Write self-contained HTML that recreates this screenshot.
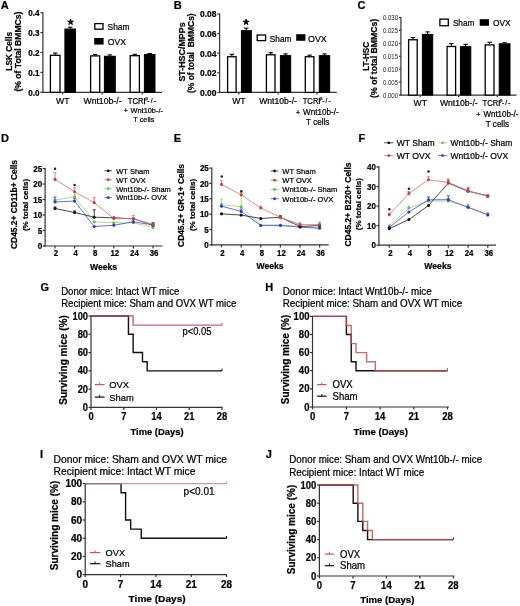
<!DOCTYPE html><html><head><meta charset="utf-8"><style>html,body{margin:0;padding:0;background:#fff;width:520px;height:606px;overflow:hidden}svg text{font-family:"Liberation Sans",sans-serif;stroke:#000;stroke-width:0.22px}</style></head><body><svg width="520" height="606" viewBox="0 0 520 606" style="display:block;filter:blur(0.3px)">
<g font-family='"Liberation Sans", sans-serif'>
<text x="0.80" y="8.70" font-size="11" font-weight="bold" fill="#000">A</text>
<text x="173.80" y="8.60" font-size="11" font-weight="bold" fill="#000">B</text>
<text x="357.60" y="9.30" font-size="11" font-weight="bold" fill="#000">C</text>
<text x="0.90" y="142.30" font-size="11" font-weight="bold" fill="#000">D</text>
<text x="173.80" y="142.20" font-size="11" font-weight="bold" fill="#000">E</text>
<text x="358.40" y="142.20" font-size="11" font-weight="bold" fill="#000">F</text>
<text x="40.40" y="290.50" font-size="11" font-weight="bold" fill="#000">G</text>
<text x="265.30" y="290.50" font-size="11" font-weight="bold" fill="#000">H</text>
<text x="40.10" y="458.00" font-size="11" font-weight="bold" fill="#000">I</text>
<text x="265.80" y="458.00" font-size="11" font-weight="bold" fill="#000">J</text>
<line x1="42.90" y1="12.30" x2="42.90" y2="92.80" stroke="#333" stroke-width="1.2"/>
<line x1="42.40" y1="92.30" x2="162.00" y2="92.30" stroke="#333" stroke-width="1.2"/>
<line x1="40.40" y1="92.30" x2="42.90" y2="92.30" stroke="#333" stroke-width="1.2"/>
<text transform="translate(39.60,95.58) scale(1.000,1.060)" font-size="8.1" font-weight="bold" text-anchor="end" fill="#000">0.0</text>
<line x1="40.40" y1="72.40" x2="42.90" y2="72.40" stroke="#333" stroke-width="1.2"/>
<text transform="translate(39.60,75.68) scale(1.000,1.060)" font-size="8.1" font-weight="bold" text-anchor="end" fill="#000">0.1</text>
<line x1="40.40" y1="52.50" x2="42.90" y2="52.50" stroke="#333" stroke-width="1.2"/>
<text transform="translate(39.60,55.78) scale(1.000,1.060)" font-size="8.1" font-weight="bold" text-anchor="end" fill="#000">0.2</text>
<line x1="40.40" y1="32.60" x2="42.90" y2="32.60" stroke="#333" stroke-width="1.2"/>
<text transform="translate(39.60,35.88) scale(1.000,1.060)" font-size="8.1" font-weight="bold" text-anchor="end" fill="#000">0.3</text>
<line x1="40.40" y1="12.70" x2="42.90" y2="12.70" stroke="#333" stroke-width="1.2"/>
<text transform="translate(39.60,15.98) scale(1.000,1.060)" font-size="8.1" font-weight="bold" text-anchor="end" fill="#000">0.4</text>
<line x1="62.70" y1="92.30" x2="62.70" y2="94.50" stroke="#333" stroke-width="1.2"/>
<line x1="102.30" y1="92.30" x2="102.30" y2="94.50" stroke="#333" stroke-width="1.2"/>
<line x1="142.20" y1="92.30" x2="142.20" y2="94.50" stroke="#333" stroke-width="1.2"/>
<line x1="55.20" y1="53.10" x2="55.20" y2="54.69" stroke="#000" stroke-width="1.1"/>
<line x1="53.00" y1="53.10" x2="57.40" y2="53.10" stroke="#000" stroke-width="1.1"/>
<rect x="50.40" y="55.29" width="9.60" height="37.01" fill="#fff" stroke="#000" stroke-width="1.3"/>
<line x1="70.20" y1="27.23" x2="70.20" y2="29.02" stroke="#000" stroke-width="1.1"/>
<line x1="68.00" y1="27.23" x2="72.40" y2="27.23" stroke="#000" stroke-width="1.1"/>
<rect x="64.90" y="29.02" width="10.60" height="63.28" fill="#000" stroke="#000" stroke-width="1.0"/>
<line x1="95.15" y1="54.69" x2="95.15" y2="55.29" stroke="#000" stroke-width="1.1"/>
<line x1="92.95" y1="54.69" x2="97.35" y2="54.69" stroke="#000" stroke-width="1.1"/>
<rect x="90.60" y="55.89" width="9.10" height="36.41" fill="#fff" stroke="#000" stroke-width="1.3"/>
<line x1="109.85" y1="54.89" x2="109.85" y2="56.28" stroke="#000" stroke-width="1.1"/>
<line x1="107.65" y1="54.89" x2="112.05" y2="54.89" stroke="#000" stroke-width="1.1"/>
<rect x="104.40" y="56.28" width="10.90" height="36.02" fill="#000" stroke="#000" stroke-width="1.0"/>
<line x1="134.80" y1="54.29" x2="134.80" y2="55.09" stroke="#000" stroke-width="1.1"/>
<line x1="132.60" y1="54.29" x2="137.00" y2="54.29" stroke="#000" stroke-width="1.1"/>
<rect x="130.20" y="55.69" width="9.20" height="36.61" fill="#fff" stroke="#000" stroke-width="1.3"/>
<line x1="149.70" y1="53.49" x2="149.70" y2="54.49" stroke="#000" stroke-width="1.1"/>
<line x1="147.50" y1="53.49" x2="151.90" y2="53.49" stroke="#000" stroke-width="1.1"/>
<rect x="144.40" y="54.49" width="10.60" height="37.81" fill="#000" stroke="#000" stroke-width="1.0"/>
<text transform="translate(11.70,51.30) rotate(-90)" font-size="8.3" font-weight="bold" text-anchor="middle" fill="#000">LSK Cells</text>
<text transform="translate(20.60,51.60) rotate(-90)" font-size="8.6" font-weight="bold" text-anchor="middle" fill="#000">(% of Total BMMCs)</text>
<polygon points="70.60,19.00 71.33,21.09 73.55,21.14 71.79,22.49 72.42,24.61 70.60,23.35 68.78,24.61 69.41,22.49 67.65,21.14 69.87,21.09" fill="#000" stroke="#000" stroke-width="0.8" stroke-linejoin="round"/>
<rect x="94.80" y="23.60" width="8.20" height="5.60" fill="#fff" stroke="#000" stroke-width="1.3"/>
<rect x="94.20" y="38.00" width="9.40" height="6.60" fill="#000" stroke="#000" stroke-width="0"/>
<text transform="translate(107.60,29.90) scale(1.000,1.060)" font-size="8.4" fill="#000">Sham</text>
<text transform="translate(107.80,44.80) scale(1.000,1.060)" font-size="8.6" fill="#000">OVX</text>
<text transform="translate(62.70,104.30) scale(1.000,1.060)" font-size="8.7" text-anchor="middle" fill="#000">WT</text>
<text transform="translate(102.50,104.30) scale(1.000,1.060)" font-size="8.7" text-anchor="middle" fill="#000">Wnt10b-/-</text>
<text transform="translate(127.70,104.30) scale(0.890,1.060)" font-size="8.7" fill="#000">TCR</text>
<line x1="144.51" y1="104.30" x2="144.51" y2="98.04" stroke="#000" stroke-width="1.1"/>
<text transform="translate(145.41,100.38) scale(1.000,1.060)" font-size="3.9149999999999996" fill="#000">&#946;</text>
<text transform="translate(147.31,103.10) scale(1.000,1.060)" font-size="6.5249999999999995" fill="#000" letter-spacing="1.2">-/-</text>
<text transform="translate(125.75,113.30) scale(1.000,1.060)" font-size="7.0" text-anchor="middle" fill="#000">+</text>
<text transform="translate(130.50,113.30) scale(1.000,1.060)" font-size="7.4" fill="#000">Wnt10b-/-</text>
<text transform="translate(143.80,121.80) scale(1.000,1.060)" font-size="7.3" text-anchor="middle" fill="#000">T cells</text>
<line x1="219.60" y1="13.60" x2="219.60" y2="92.90" stroke="#333" stroke-width="1.2"/>
<line x1="219.10" y1="92.40" x2="336.70" y2="92.40" stroke="#333" stroke-width="1.2"/>
<line x1="217.30" y1="92.40" x2="219.60" y2="92.40" stroke="#333" stroke-width="1.2"/>
<text transform="translate(216.50,95.83) scale(1.000,1.060)" font-size="8.5" font-weight="bold" text-anchor="end" fill="#000">0.00</text>
<line x1="217.30" y1="72.80" x2="219.60" y2="72.80" stroke="#333" stroke-width="1.2"/>
<text transform="translate(216.50,76.23) scale(1.000,1.060)" font-size="8.5" font-weight="bold" text-anchor="end" fill="#000">0.02</text>
<line x1="217.30" y1="53.20" x2="219.60" y2="53.20" stroke="#333" stroke-width="1.2"/>
<text transform="translate(216.50,56.63) scale(1.000,1.060)" font-size="8.5" font-weight="bold" text-anchor="end" fill="#000">0.04</text>
<line x1="217.30" y1="33.60" x2="219.60" y2="33.60" stroke="#333" stroke-width="1.2"/>
<text transform="translate(216.50,37.03) scale(1.000,1.060)" font-size="8.5" font-weight="bold" text-anchor="end" fill="#000">0.06</text>
<line x1="217.30" y1="14.00" x2="219.60" y2="14.00" stroke="#333" stroke-width="1.2"/>
<text transform="translate(216.50,17.43) scale(1.000,1.060)" font-size="8.5" font-weight="bold" text-anchor="end" fill="#000">0.08</text>
<line x1="238.90" y1="92.40" x2="238.90" y2="94.60" stroke="#333" stroke-width="1.2"/>
<line x1="278.10" y1="92.40" x2="278.10" y2="94.60" stroke="#333" stroke-width="1.2"/>
<line x1="317.10" y1="92.40" x2="317.10" y2="94.60" stroke="#333" stroke-width="1.2"/>
<line x1="231.85" y1="54.38" x2="231.85" y2="56.14" stroke="#000" stroke-width="1.1"/>
<line x1="229.65" y1="54.38" x2="234.05" y2="54.38" stroke="#000" stroke-width="1.1"/>
<rect x="227.60" y="56.74" width="8.50" height="35.66" fill="#fff" stroke="#000" stroke-width="1.3"/>
<line x1="246.35" y1="28.21" x2="246.35" y2="30.66" stroke="#000" stroke-width="1.1"/>
<line x1="244.15" y1="28.21" x2="248.55" y2="28.21" stroke="#000" stroke-width="1.1"/>
<rect x="241.40" y="30.66" width="9.90" height="61.74" fill="#000" stroke="#000" stroke-width="1.0"/>
<line x1="270.70" y1="52.71" x2="270.70" y2="54.18" stroke="#000" stroke-width="1.1"/>
<line x1="268.50" y1="52.71" x2="272.90" y2="52.71" stroke="#000" stroke-width="1.1"/>
<rect x="266.40" y="54.78" width="8.60" height="37.62" fill="#fff" stroke="#000" stroke-width="1.3"/>
<line x1="285.55" y1="53.89" x2="285.55" y2="55.65" stroke="#000" stroke-width="1.1"/>
<line x1="283.35" y1="53.89" x2="287.75" y2="53.89" stroke="#000" stroke-width="1.1"/>
<rect x="280.40" y="55.65" width="10.30" height="36.75" fill="#000" stroke="#000" stroke-width="1.0"/>
<line x1="309.60" y1="55.16" x2="309.60" y2="56.14" stroke="#000" stroke-width="1.1"/>
<line x1="307.40" y1="55.16" x2="311.80" y2="55.16" stroke="#000" stroke-width="1.1"/>
<rect x="305.30" y="56.74" width="8.60" height="35.66" fill="#fff" stroke="#000" stroke-width="1.3"/>
<line x1="324.50" y1="53.89" x2="324.50" y2="55.65" stroke="#000" stroke-width="1.1"/>
<line x1="322.30" y1="53.89" x2="326.70" y2="53.89" stroke="#000" stroke-width="1.1"/>
<rect x="319.30" y="55.65" width="10.40" height="36.75" fill="#000" stroke="#000" stroke-width="1.0"/>
<text transform="translate(185.20,52.00) rotate(-90)" font-size="8.9" font-weight="bold" text-anchor="middle" fill="#000">ST-HSC/MPPs</text>
<text transform="translate(194.00,53.20) rotate(-90)" font-size="8.5" font-weight="bold" text-anchor="middle" fill="#000" xml:space="preserve">(% of total  BMMCs)</text>
<polygon points="246.10,19.00 246.83,21.09 249.05,21.14 247.29,22.49 247.92,24.61 246.10,23.35 244.28,24.61 244.91,22.49 243.15,21.14 245.37,21.09" fill="#000" stroke="#000" stroke-width="0.8" stroke-linejoin="round"/>
<rect x="257.20" y="35.00" width="8.40" height="5.60" fill="#fff" stroke="#000" stroke-width="1.3"/>
<rect x="296.20" y="34.20" width="9.20" height="6.60" fill="#000" stroke="#000" stroke-width="0"/>
<text transform="translate(269.80,42.20) scale(1.000,1.060)" font-size="8.3" fill="#000">Sham</text>
<text transform="translate(308.00,41.80) scale(1.000,1.060)" font-size="8.9" fill="#000">OVX</text>
<text transform="translate(238.90,104.00) scale(1.000,1.060)" font-size="8.6" text-anchor="middle" fill="#000">WT</text>
<text transform="translate(278.10,104.00) scale(1.000,1.060)" font-size="8.6" text-anchor="middle" fill="#000">Wnt10b-/-</text>
<text transform="translate(302.70,104.00) scale(0.890,1.060)" font-size="8.6" fill="#000">TCR</text>
<line x1="319.33" y1="104.00" x2="319.33" y2="97.81" stroke="#000" stroke-width="1.1"/>
<text transform="translate(320.23,100.13) scale(1.000,1.060)" font-size="3.87" fill="#000">&#946;</text>
<text transform="translate(322.13,102.80) scale(1.000,1.060)" font-size="6.449999999999999" fill="#000" letter-spacing="1.2">-/-</text>
<text transform="translate(298.00,115.00) scale(1.000,1.060)" font-size="7.0" text-anchor="middle" fill="#000">+</text>
<text transform="translate(303.10,115.00) scale(1.000,1.060)" font-size="8.1" fill="#000">Wnt10b-/-</text>
<text transform="translate(317.70,125.10) scale(1.000,1.060)" font-size="8.1" text-anchor="middle" fill="#000">T cells</text>
<line x1="400.90" y1="17.00" x2="400.90" y2="95.60" stroke="#333" stroke-width="1.2"/>
<line x1="400.40" y1="95.10" x2="516.50" y2="95.10" stroke="#333" stroke-width="1.2"/>
<line x1="398.90" y1="95.10" x2="400.90" y2="95.10" stroke="#333" stroke-width="1.2"/>
<text transform="translate(398.10,97.62) scale(1.000,1.060)" font-size="6.1" text-anchor="end" fill="#222" style="stroke:none">0.000</text>
<line x1="398.90" y1="82.15" x2="400.90" y2="82.15" stroke="#333" stroke-width="1.2"/>
<text transform="translate(398.10,84.67) scale(1.000,1.060)" font-size="6.1" text-anchor="end" fill="#222" style="stroke:none">0.005</text>
<line x1="398.90" y1="69.20" x2="400.90" y2="69.20" stroke="#333" stroke-width="1.2"/>
<text transform="translate(398.10,71.72) scale(1.000,1.060)" font-size="6.1" text-anchor="end" fill="#222" style="stroke:none">0.010</text>
<line x1="398.90" y1="56.25" x2="400.90" y2="56.25" stroke="#333" stroke-width="1.2"/>
<text transform="translate(398.10,58.77) scale(1.000,1.060)" font-size="6.1" text-anchor="end" fill="#222" style="stroke:none">0.015</text>
<line x1="398.90" y1="43.30" x2="400.90" y2="43.30" stroke="#333" stroke-width="1.2"/>
<text transform="translate(398.10,45.82) scale(1.000,1.060)" font-size="6.1" text-anchor="end" fill="#222" style="stroke:none">0.020</text>
<line x1="398.90" y1="30.35" x2="400.90" y2="30.35" stroke="#333" stroke-width="1.2"/>
<text transform="translate(398.10,32.87) scale(1.000,1.060)" font-size="6.1" text-anchor="end" fill="#222" style="stroke:none">0.025</text>
<line x1="398.90" y1="17.40" x2="400.90" y2="17.40" stroke="#333" stroke-width="1.2"/>
<text transform="translate(398.10,19.92) scale(1.000,1.060)" font-size="6.1" text-anchor="end" fill="#222" style="stroke:none">0.030</text>
<line x1="420.20" y1="95.10" x2="420.20" y2="97.30" stroke="#333" stroke-width="1.2"/>
<line x1="458.60" y1="95.10" x2="458.60" y2="97.30" stroke="#333" stroke-width="1.2"/>
<line x1="497.30" y1="95.10" x2="497.30" y2="97.30" stroke="#333" stroke-width="1.2"/>
<line x1="412.90" y1="37.60" x2="412.90" y2="39.16" stroke="#000" stroke-width="1.1"/>
<line x1="410.70" y1="37.60" x2="415.10" y2="37.60" stroke="#000" stroke-width="1.1"/>
<rect x="408.60" y="39.76" width="8.60" height="55.34" fill="#fff" stroke="#000" stroke-width="1.3"/>
<line x1="427.55" y1="31.90" x2="427.55" y2="34.49" stroke="#000" stroke-width="1.1"/>
<line x1="425.35" y1="31.90" x2="429.75" y2="31.90" stroke="#000" stroke-width="1.1"/>
<rect x="422.40" y="34.49" width="10.30" height="60.61" fill="#000" stroke="#000" stroke-width="1.0"/>
<line x1="451.35" y1="43.56" x2="451.35" y2="45.89" stroke="#000" stroke-width="1.1"/>
<line x1="449.15" y1="43.56" x2="453.55" y2="43.56" stroke="#000" stroke-width="1.1"/>
<rect x="447.10" y="46.49" width="8.50" height="48.61" fill="#fff" stroke="#000" stroke-width="1.3"/>
<line x1="465.60" y1="44.34" x2="465.60" y2="46.67" stroke="#000" stroke-width="1.1"/>
<line x1="463.40" y1="44.34" x2="467.80" y2="44.34" stroke="#000" stroke-width="1.1"/>
<rect x="460.40" y="46.67" width="10.40" height="48.43" fill="#000" stroke="#000" stroke-width="1.0"/>
<line x1="489.60" y1="42.26" x2="489.60" y2="44.34" stroke="#000" stroke-width="1.1"/>
<line x1="487.40" y1="42.26" x2="491.80" y2="42.26" stroke="#000" stroke-width="1.1"/>
<rect x="485.20" y="44.94" width="8.80" height="50.16" fill="#fff" stroke="#000" stroke-width="1.3"/>
<line x1="504.60" y1="42.78" x2="504.60" y2="43.82" stroke="#000" stroke-width="1.1"/>
<line x1="502.40" y1="42.78" x2="506.80" y2="42.78" stroke="#000" stroke-width="1.1"/>
<rect x="499.20" y="43.82" width="10.80" height="51.28" fill="#000" stroke="#000" stroke-width="1.0"/>
<text transform="translate(369.00,56.30) rotate(-90)" font-size="8.2" font-weight="bold" text-anchor="middle" fill="#000">LT-HSC</text>
<text transform="translate(377.20,58.30) rotate(-90)" font-size="8.7" font-weight="bold" text-anchor="middle" fill="#000">(% of total BMMCs)</text>
<rect x="439.90" y="19.10" width="8.40" height="6.60" fill="#fff" stroke="#000" stroke-width="1.3"/>
<rect x="479.70" y="19.20" width="9.30" height="6.60" fill="#000" stroke="#000" stroke-width="0"/>
<text transform="translate(452.90,25.80) scale(1.000,1.060)" font-size="8.2" fill="#000">Sham</text>
<text transform="translate(493.00,25.80) scale(1.000,1.060)" font-size="8.4" fill="#000">OVX</text>
<text transform="translate(420.20,106.00) scale(1.000,1.060)" font-size="8.6" text-anchor="middle" fill="#000">WT</text>
<text transform="translate(458.80,106.00) scale(1.000,1.060)" font-size="8.6" text-anchor="middle" fill="#000">Wnt10b-/-</text>
<text transform="translate(482.60,106.00) scale(0.890,1.060)" font-size="8.6" fill="#000">TCR</text>
<line x1="499.23" y1="106.00" x2="499.23" y2="99.81" stroke="#000" stroke-width="1.1"/>
<text transform="translate(500.13,102.13) scale(1.000,1.060)" font-size="3.87" fill="#000">&#946;</text>
<text transform="translate(502.03,104.80) scale(1.000,1.060)" font-size="6.449999999999999" fill="#000" letter-spacing="1.2">-/-</text>
<text transform="translate(478.40,117.00) scale(1.000,1.060)" font-size="7.0" text-anchor="middle" fill="#000">+</text>
<text transform="translate(483.40,117.00) scale(1.000,1.060)" font-size="8.0" fill="#000">Wnt10b-/-</text>
<text transform="translate(497.40,126.60) scale(1.000,1.060)" font-size="8.1" text-anchor="middle" fill="#000">T cells</text>
<line x1="45.10" y1="168.00" x2="45.10" y2="246.50" stroke="#333" stroke-width="1.2"/>
<line x1="44.60" y1="246.00" x2="162.50" y2="246.00" stroke="#333" stroke-width="1.2"/>
<line x1="42.60" y1="246.00" x2="45.10" y2="246.00" stroke="#333" stroke-width="1.2"/>
<text transform="translate(42.10,249.10) scale(0.950,1.060)" font-size="8.4" font-weight="bold" text-anchor="end" fill="#000">0</text>
<line x1="42.60" y1="230.51" x2="45.10" y2="230.51" stroke="#333" stroke-width="1.2"/>
<text transform="translate(42.10,233.61) scale(0.950,1.060)" font-size="8.4" font-weight="bold" text-anchor="end" fill="#000">5</text>
<line x1="42.60" y1="215.02" x2="45.10" y2="215.02" stroke="#333" stroke-width="1.2"/>
<text transform="translate(42.10,218.12) scale(0.950,1.060)" font-size="8.4" font-weight="bold" text-anchor="end" fill="#000">10</text>
<line x1="42.60" y1="199.53" x2="45.10" y2="199.53" stroke="#333" stroke-width="1.2"/>
<text transform="translate(42.10,202.63) scale(0.950,1.060)" font-size="8.4" font-weight="bold" text-anchor="end" fill="#000">15</text>
<line x1="42.60" y1="184.04" x2="45.10" y2="184.04" stroke="#333" stroke-width="1.2"/>
<text transform="translate(42.10,187.14) scale(0.950,1.060)" font-size="8.4" font-weight="bold" text-anchor="end" fill="#000">20</text>
<line x1="42.60" y1="168.55" x2="45.10" y2="168.55" stroke="#333" stroke-width="1.2"/>
<text transform="translate(42.10,171.65) scale(0.950,1.060)" font-size="8.4" font-weight="bold" text-anchor="end" fill="#000">25</text>
<line x1="55.00" y1="246.00" x2="55.00" y2="248.50" stroke="#333" stroke-width="1.2"/>
<text transform="translate(56.00,256.20) scale(0.930,1.060)" font-size="8.4" font-weight="bold" text-anchor="middle" fill="#000">2</text>
<line x1="74.60" y1="246.00" x2="74.60" y2="248.50" stroke="#333" stroke-width="1.2"/>
<text transform="translate(75.60,256.20) scale(0.930,1.060)" font-size="8.4" font-weight="bold" text-anchor="middle" fill="#000">4</text>
<line x1="94.20" y1="246.00" x2="94.20" y2="248.50" stroke="#333" stroke-width="1.2"/>
<text transform="translate(95.20,256.20) scale(0.930,1.060)" font-size="8.4" font-weight="bold" text-anchor="middle" fill="#000">8</text>
<line x1="113.80" y1="246.00" x2="113.80" y2="248.50" stroke="#333" stroke-width="1.2"/>
<text transform="translate(114.80,256.20) scale(0.930,1.060)" font-size="8.4" font-weight="bold" text-anchor="middle" fill="#000">12</text>
<line x1="133.40" y1="246.00" x2="133.40" y2="248.50" stroke="#333" stroke-width="1.2"/>
<text transform="translate(134.40,256.20) scale(0.930,1.060)" font-size="8.4" font-weight="bold" text-anchor="middle" fill="#000">24</text>
<line x1="153.00" y1="246.00" x2="153.00" y2="248.50" stroke="#333" stroke-width="1.2"/>
<text transform="translate(154.00,256.20) scale(0.930,1.060)" font-size="8.4" font-weight="bold" text-anchor="middle" fill="#000">36</text>
<text transform="translate(103.50,269.60) scale(1.000,1.060)" font-size="8.6" font-weight="bold" text-anchor="middle" fill="#000">Weeks</text>
<line x1="55.00" y1="196.12" x2="55.00" y2="200.15" stroke="#98d678" stroke-width="0.9"/>
<line x1="53.50" y1="196.12" x2="56.50" y2="196.12" stroke="#98d678" stroke-width="0.9"/>
<line x1="74.60" y1="194.26" x2="74.60" y2="196.74" stroke="#98d678" stroke-width="0.9"/>
<line x1="73.10" y1="194.26" x2="76.10" y2="194.26" stroke="#98d678" stroke-width="0.9"/>
<line x1="153.00" y1="225.86" x2="153.00" y2="227.41" stroke="#98d678" stroke-width="0.9"/>
<line x1="151.50" y1="225.86" x2="154.50" y2="225.86" stroke="#98d678" stroke-width="0.9"/>
<polyline points="55.00,200.15 74.60,196.74 94.20,221.84 113.80,222.76 133.40,222.76 153.00,227.41" fill="none" stroke="#98d678" stroke-width="0.85" stroke-linejoin="miter"/>
<circle cx="55.00" cy="200.15" r="1.55" fill="#6cb84a"/>
<circle cx="74.60" cy="196.74" r="1.55" fill="#6cb84a"/>
<circle cx="94.20" cy="221.84" r="1.55" fill="#6cb84a"/>
<circle cx="113.80" cy="222.76" r="1.55" fill="#6cb84a"/>
<circle cx="133.40" cy="222.76" r="1.55" fill="#6cb84a"/>
<circle cx="153.00" cy="227.41" r="1.55" fill="#6cb84a"/>
<line x1="55.00" y1="197.36" x2="55.00" y2="202.01" stroke="#4a56de" stroke-width="0.9"/>
<line x1="53.50" y1="197.36" x2="56.50" y2="197.36" stroke="#4a56de" stroke-width="0.9"/>
<line x1="74.60" y1="198.60" x2="74.60" y2="201.08" stroke="#4a56de" stroke-width="0.9"/>
<line x1="73.10" y1="198.60" x2="76.10" y2="198.60" stroke="#4a56de" stroke-width="0.9"/>
<line x1="133.40" y1="219.36" x2="133.40" y2="221.84" stroke="#4a56de" stroke-width="0.9"/>
<line x1="131.90" y1="219.36" x2="134.90" y2="219.36" stroke="#4a56de" stroke-width="0.9"/>
<line x1="153.00" y1="222.46" x2="153.00" y2="224.93" stroke="#4a56de" stroke-width="0.9"/>
<line x1="151.50" y1="222.46" x2="154.50" y2="222.46" stroke="#4a56de" stroke-width="0.9"/>
<polyline points="55.00,202.01 74.60,201.08 94.20,226.48 113.80,225.24 133.40,221.84 153.00,224.93" fill="none" stroke="#4a56de" stroke-width="0.85" stroke-linejoin="miter"/>
<circle cx="55.00" cy="202.01" r="1.55" fill="#2a3acc"/>
<circle cx="74.60" cy="201.08" r="1.55" fill="#2a3acc"/>
<circle cx="94.20" cy="226.48" r="1.55" fill="#2a3acc"/>
<circle cx="113.80" cy="225.24" r="1.55" fill="#2a3acc"/>
<circle cx="133.40" cy="221.84" r="1.55" fill="#2a3acc"/>
<circle cx="153.00" cy="224.93" r="1.55" fill="#2a3acc"/>
<line x1="55.00" y1="206.97" x2="55.00" y2="208.51" stroke="#2a2a2a" stroke-width="0.9"/>
<line x1="53.50" y1="206.97" x2="56.50" y2="206.97" stroke="#2a2a2a" stroke-width="0.9"/>
<line x1="74.60" y1="210.99" x2="74.60" y2="212.54" stroke="#2a2a2a" stroke-width="0.9"/>
<line x1="73.10" y1="210.99" x2="76.10" y2="210.99" stroke="#2a2a2a" stroke-width="0.9"/>
<line x1="94.20" y1="209.75" x2="94.20" y2="217.19" stroke="#2a2a2a" stroke-width="0.9"/>
<line x1="92.70" y1="209.75" x2="95.70" y2="209.75" stroke="#2a2a2a" stroke-width="0.9"/>
<line x1="153.00" y1="223.38" x2="153.00" y2="224.93" stroke="#2a2a2a" stroke-width="0.9"/>
<line x1="151.50" y1="223.38" x2="154.50" y2="223.38" stroke="#2a2a2a" stroke-width="0.9"/>
<polyline points="55.00,208.51 74.60,212.54 94.20,217.19 113.80,217.81 133.40,218.74 153.00,224.93" fill="none" stroke="#2a2a2a" stroke-width="0.85" stroke-linejoin="miter"/>
<circle cx="55.00" cy="208.51" r="1.55" fill="#111"/>
<circle cx="74.60" cy="212.54" r="1.55" fill="#111"/>
<circle cx="94.20" cy="217.19" r="1.55" fill="#111"/>
<circle cx="113.80" cy="217.81" r="1.55" fill="#111"/>
<circle cx="133.40" cy="218.74" r="1.55" fill="#111"/>
<circle cx="153.00" cy="224.93" r="1.55" fill="#111"/>
<line x1="55.00" y1="172.58" x2="55.00" y2="179.39" stroke="#e07272" stroke-width="0.9"/>
<line x1="53.50" y1="172.58" x2="56.50" y2="172.58" stroke="#e07272" stroke-width="0.9"/>
<line x1="74.60" y1="187.76" x2="74.60" y2="191.78" stroke="#e07272" stroke-width="0.9"/>
<line x1="73.10" y1="187.76" x2="76.10" y2="187.76" stroke="#e07272" stroke-width="0.9"/>
<line x1="94.20" y1="197.67" x2="94.20" y2="202.63" stroke="#e07272" stroke-width="0.9"/>
<line x1="92.70" y1="197.67" x2="95.70" y2="197.67" stroke="#e07272" stroke-width="0.9"/>
<line x1="133.40" y1="215.64" x2="133.40" y2="218.74" stroke="#e07272" stroke-width="0.9"/>
<line x1="131.90" y1="215.64" x2="134.90" y2="215.64" stroke="#e07272" stroke-width="0.9"/>
<polyline points="55.00,179.39 74.60,191.78 94.20,202.63 113.80,218.43 133.40,218.74 153.00,224.62" fill="none" stroke="#e07272" stroke-width="0.85" stroke-linejoin="miter"/>
<circle cx="55.00" cy="179.39" r="1.55" fill="#cc4040"/>
<circle cx="74.60" cy="191.78" r="1.55" fill="#cc4040"/>
<circle cx="94.20" cy="202.63" r="1.55" fill="#cc4040"/>
<circle cx="113.80" cy="218.43" r="1.55" fill="#cc4040"/>
<circle cx="133.40" cy="218.74" r="1.55" fill="#cc4040"/>
<circle cx="153.00" cy="224.62" r="1.55" fill="#cc4040"/>
<circle cx="55.00" cy="168.80" r="1.25" fill="#222"/>
<circle cx="74.60" cy="185.00" r="1.25" fill="#222"/>
<text transform="translate(17.00,204.50) rotate(-90)" font-size="8.4" font-weight="bold" text-anchor="middle" fill="#000">CD45.2+ CD11b+ Cells</text>
<text transform="translate(28.30,205.00) rotate(-90)" font-size="8.1" font-weight="bold" text-anchor="middle" fill="#000">(% total cells)</text>
<line x1="104.50" y1="170.80" x2="112.00" y2="170.80" stroke="#2a2a2a" stroke-width="0.85"/>
<circle cx="108.25" cy="170.80" r="1.4" fill="#111"/>
<text transform="translate(116.30,173.60) scale(1.000,1.060)" font-size="7.5" fill="#000">WT Sham</text>
<line x1="104.50" y1="179.75" x2="112.00" y2="179.75" stroke="#e07272" stroke-width="0.85"/>
<circle cx="108.25" cy="179.75" r="1.4" fill="#cc4040"/>
<text transform="translate(116.30,182.55) scale(1.000,1.060)" font-size="7.5" fill="#000">WT OVX</text>
<line x1="104.50" y1="188.70" x2="112.00" y2="188.70" stroke="#98d678" stroke-width="0.85"/>
<circle cx="108.25" cy="188.70" r="1.4" fill="#6cb84a"/>
<text transform="translate(116.30,191.50) scale(1.000,1.060)" font-size="7.5" fill="#000">Wnt10b-/- Sham</text>
<line x1="104.50" y1="197.65" x2="112.00" y2="197.65" stroke="#4a56de" stroke-width="0.85"/>
<circle cx="108.25" cy="197.65" r="1.4" fill="#2a3acc"/>
<text transform="translate(116.30,200.45) scale(1.000,1.060)" font-size="7.5" fill="#000">Wnt10b-/- OVX</text>
<line x1="211.80" y1="167.60" x2="211.80" y2="245.40" stroke="#333" stroke-width="1.2"/>
<line x1="211.30" y1="244.90" x2="328.70" y2="244.90" stroke="#333" stroke-width="1.2"/>
<line x1="209.30" y1="244.90" x2="211.80" y2="244.90" stroke="#333" stroke-width="1.2"/>
<text transform="translate(208.80,248.00) scale(0.950,1.060)" font-size="8.4" font-weight="bold" text-anchor="end" fill="#000">0</text>
<line x1="209.30" y1="229.54" x2="211.80" y2="229.54" stroke="#333" stroke-width="1.2"/>
<text transform="translate(208.80,232.64) scale(0.950,1.060)" font-size="8.4" font-weight="bold" text-anchor="end" fill="#000">5</text>
<line x1="209.30" y1="214.18" x2="211.80" y2="214.18" stroke="#333" stroke-width="1.2"/>
<text transform="translate(208.80,217.28) scale(0.950,1.060)" font-size="8.4" font-weight="bold" text-anchor="end" fill="#000">10</text>
<line x1="209.30" y1="198.82" x2="211.80" y2="198.82" stroke="#333" stroke-width="1.2"/>
<text transform="translate(208.80,201.92) scale(0.950,1.060)" font-size="8.4" font-weight="bold" text-anchor="end" fill="#000">15</text>
<line x1="209.30" y1="183.46" x2="211.80" y2="183.46" stroke="#333" stroke-width="1.2"/>
<text transform="translate(208.80,186.56) scale(0.950,1.060)" font-size="8.4" font-weight="bold" text-anchor="end" fill="#000">20</text>
<line x1="209.30" y1="168.10" x2="211.80" y2="168.10" stroke="#333" stroke-width="1.2"/>
<text transform="translate(208.80,171.20) scale(0.950,1.060)" font-size="8.4" font-weight="bold" text-anchor="end" fill="#000">25</text>
<line x1="221.50" y1="244.90" x2="221.50" y2="247.40" stroke="#333" stroke-width="1.2"/>
<text transform="translate(222.50,255.50) scale(0.930,1.060)" font-size="8.4" font-weight="bold" text-anchor="middle" fill="#000">2</text>
<line x1="241.20" y1="244.90" x2="241.20" y2="247.40" stroke="#333" stroke-width="1.2"/>
<text transform="translate(242.20,255.50) scale(0.930,1.060)" font-size="8.4" font-weight="bold" text-anchor="middle" fill="#000">4</text>
<line x1="260.80" y1="244.90" x2="260.80" y2="247.40" stroke="#333" stroke-width="1.2"/>
<text transform="translate(261.80,255.50) scale(0.930,1.060)" font-size="8.4" font-weight="bold" text-anchor="middle" fill="#000">8</text>
<line x1="280.40" y1="244.90" x2="280.40" y2="247.40" stroke="#333" stroke-width="1.2"/>
<text transform="translate(281.40,255.50) scale(0.930,1.060)" font-size="8.4" font-weight="bold" text-anchor="middle" fill="#000">12</text>
<line x1="300.00" y1="244.90" x2="300.00" y2="247.40" stroke="#333" stroke-width="1.2"/>
<text transform="translate(301.00,255.50) scale(0.930,1.060)" font-size="8.4" font-weight="bold" text-anchor="middle" fill="#000">24</text>
<line x1="319.60" y1="244.90" x2="319.60" y2="247.40" stroke="#333" stroke-width="1.2"/>
<text transform="translate(320.60,255.50) scale(0.930,1.060)" font-size="8.4" font-weight="bold" text-anchor="middle" fill="#000">36</text>
<text transform="translate(270.00,269.00) scale(1.000,1.060)" font-size="8.6" font-weight="bold" text-anchor="middle" fill="#000">Weeks</text>
<line x1="221.50" y1="199.13" x2="221.50" y2="204.66" stroke="#98d678" stroke-width="0.9"/>
<line x1="220.00" y1="199.13" x2="223.00" y2="199.13" stroke="#98d678" stroke-width="0.9"/>
<line x1="241.20" y1="194.52" x2="241.20" y2="206.81" stroke="#98d678" stroke-width="0.9"/>
<line x1="239.70" y1="194.52" x2="242.70" y2="194.52" stroke="#98d678" stroke-width="0.9"/>
<polyline points="221.50,204.66 241.20,206.81 260.80,224.93 280.40,224.93 300.00,226.47 319.60,227.70" fill="none" stroke="#98d678" stroke-width="0.85" stroke-linejoin="miter"/>
<circle cx="221.50" cy="204.66" r="1.55" fill="#6cb84a"/>
<circle cx="241.20" cy="206.81" r="1.55" fill="#6cb84a"/>
<circle cx="260.80" cy="224.93" r="1.55" fill="#6cb84a"/>
<circle cx="280.40" cy="224.93" r="1.55" fill="#6cb84a"/>
<circle cx="300.00" cy="226.47" r="1.55" fill="#6cb84a"/>
<circle cx="319.60" cy="227.70" r="1.55" fill="#6cb84a"/>
<line x1="241.20" y1="208.96" x2="241.20" y2="211.42" stroke="#4a56de" stroke-width="0.9"/>
<line x1="239.70" y1="208.96" x2="242.70" y2="208.96" stroke="#4a56de" stroke-width="0.9"/>
<polyline points="221.50,206.19 241.20,211.42 260.80,225.55 280.40,225.55 300.00,227.08 319.60,228.31" fill="none" stroke="#4a56de" stroke-width="0.85" stroke-linejoin="miter"/>
<circle cx="221.50" cy="206.19" r="1.55" fill="#2a3acc"/>
<circle cx="241.20" cy="211.42" r="1.55" fill="#2a3acc"/>
<circle cx="260.80" cy="225.55" r="1.55" fill="#2a3acc"/>
<circle cx="280.40" cy="225.55" r="1.55" fill="#2a3acc"/>
<circle cx="300.00" cy="227.08" r="1.55" fill="#2a3acc"/>
<circle cx="319.60" cy="228.31" r="1.55" fill="#2a3acc"/>
<line x1="280.40" y1="215.72" x2="280.40" y2="217.25" stroke="#2a2a2a" stroke-width="0.9"/>
<line x1="278.90" y1="215.72" x2="281.90" y2="215.72" stroke="#2a2a2a" stroke-width="0.9"/>
<polyline points="221.50,213.87 241.20,215.10 260.80,218.48 280.40,217.25 300.00,226.47 319.60,225.55" fill="none" stroke="#2a2a2a" stroke-width="0.85" stroke-linejoin="miter"/>
<circle cx="221.50" cy="213.87" r="1.55" fill="#111"/>
<circle cx="241.20" cy="215.10" r="1.55" fill="#111"/>
<circle cx="260.80" cy="218.48" r="1.55" fill="#111"/>
<circle cx="280.40" cy="217.25" r="1.55" fill="#111"/>
<circle cx="300.00" cy="226.47" r="1.55" fill="#111"/>
<circle cx="319.60" cy="225.55" r="1.55" fill="#111"/>
<line x1="221.50" y1="180.70" x2="221.50" y2="184.38" stroke="#e07272" stroke-width="0.9"/>
<line x1="220.00" y1="180.70" x2="223.00" y2="180.70" stroke="#e07272" stroke-width="0.9"/>
<line x1="241.20" y1="192.37" x2="241.20" y2="194.83" stroke="#e07272" stroke-width="0.9"/>
<line x1="239.70" y1="192.37" x2="242.70" y2="192.37" stroke="#e07272" stroke-width="0.9"/>
<line x1="260.80" y1="206.19" x2="260.80" y2="208.04" stroke="#e07272" stroke-width="0.9"/>
<line x1="259.30" y1="206.19" x2="262.30" y2="206.19" stroke="#e07272" stroke-width="0.9"/>
<line x1="300.00" y1="222.78" x2="300.00" y2="224.62" stroke="#e07272" stroke-width="0.9"/>
<line x1="298.50" y1="222.78" x2="301.50" y2="222.78" stroke="#e07272" stroke-width="0.9"/>
<line x1="319.60" y1="222.17" x2="319.60" y2="224.62" stroke="#e07272" stroke-width="0.9"/>
<line x1="318.10" y1="222.17" x2="321.10" y2="222.17" stroke="#e07272" stroke-width="0.9"/>
<polyline points="221.50,184.38 241.20,194.83 260.80,208.04 280.40,217.25 300.00,224.62 319.60,224.62" fill="none" stroke="#e07272" stroke-width="0.85" stroke-linejoin="miter"/>
<circle cx="221.50" cy="184.38" r="1.55" fill="#cc4040"/>
<circle cx="241.20" cy="194.83" r="1.55" fill="#cc4040"/>
<circle cx="260.80" cy="208.04" r="1.55" fill="#cc4040"/>
<circle cx="280.40" cy="217.25" r="1.55" fill="#cc4040"/>
<circle cx="300.00" cy="224.62" r="1.55" fill="#cc4040"/>
<circle cx="319.60" cy="224.62" r="1.55" fill="#cc4040"/>
<circle cx="221.80" cy="176.60" r="1.25" fill="#222"/>
<circle cx="241.30" cy="191.20" r="1.25" fill="#222"/>
<text transform="translate(184.20,205.50) rotate(-90)" font-size="8.4" font-weight="bold" text-anchor="middle" fill="#000">CD45.2+ GR-1+ Cells</text>
<text transform="translate(195.00,205.00) rotate(-90)" font-size="8.1" font-weight="bold" text-anchor="middle" fill="#000">(% total cells)</text>
<line x1="270.80" y1="171.00" x2="278.40" y2="171.00" stroke="#2a2a2a" stroke-width="0.85"/>
<circle cx="274.60" cy="171.00" r="1.4" fill="#111"/>
<text transform="translate(282.30,173.80) scale(1.000,1.060)" font-size="7.55" fill="#000">WT Sham</text>
<line x1="270.80" y1="180.25" x2="278.40" y2="180.25" stroke="#e07272" stroke-width="0.85"/>
<circle cx="274.60" cy="180.25" r="1.4" fill="#cc4040"/>
<text transform="translate(282.30,183.05) scale(1.000,1.060)" font-size="7.55" fill="#000">WT OVX</text>
<line x1="270.80" y1="189.50" x2="278.40" y2="189.50" stroke="#98d678" stroke-width="0.85"/>
<circle cx="274.60" cy="189.50" r="1.4" fill="#6cb84a"/>
<text transform="translate(282.30,192.30) scale(1.000,1.060)" font-size="7.55" fill="#000">Wnt10b-/- Sham</text>
<line x1="270.80" y1="198.75" x2="278.40" y2="198.75" stroke="#4a56de" stroke-width="0.85"/>
<circle cx="274.60" cy="198.75" r="1.4" fill="#2a3acc"/>
<text transform="translate(282.30,201.55) scale(1.000,1.060)" font-size="7.55" fill="#000">Wnt10b-/- OVX</text>
<line x1="378.90" y1="166.00" x2="378.90" y2="245.70" stroke="#333" stroke-width="1.2"/>
<line x1="378.40" y1="245.20" x2="496.00" y2="245.20" stroke="#333" stroke-width="1.2"/>
<line x1="376.40" y1="245.20" x2="378.90" y2="245.20" stroke="#333" stroke-width="1.2"/>
<text transform="translate(375.90,248.30) scale(0.950,1.060)" font-size="8.4" font-weight="bold" text-anchor="end" fill="#000">0</text>
<line x1="376.40" y1="225.65" x2="378.90" y2="225.65" stroke="#333" stroke-width="1.2"/>
<text transform="translate(375.90,228.75) scale(0.950,1.060)" font-size="8.4" font-weight="bold" text-anchor="end" fill="#000">10</text>
<line x1="376.40" y1="206.10" x2="378.90" y2="206.10" stroke="#333" stroke-width="1.2"/>
<text transform="translate(375.90,209.20) scale(0.950,1.060)" font-size="8.4" font-weight="bold" text-anchor="end" fill="#000">20</text>
<line x1="376.40" y1="186.55" x2="378.90" y2="186.55" stroke="#333" stroke-width="1.2"/>
<text transform="translate(375.90,189.65) scale(0.950,1.060)" font-size="8.4" font-weight="bold" text-anchor="end" fill="#000">30</text>
<line x1="376.40" y1="167.00" x2="378.90" y2="167.00" stroke="#333" stroke-width="1.2"/>
<text transform="translate(375.90,170.10) scale(0.950,1.060)" font-size="8.4" font-weight="bold" text-anchor="end" fill="#000">40</text>
<line x1="389.30" y1="245.20" x2="389.30" y2="247.70" stroke="#333" stroke-width="1.2"/>
<text transform="translate(390.30,255.60) scale(0.930,1.060)" font-size="8.4" font-weight="bold" text-anchor="middle" fill="#000">2</text>
<line x1="408.90" y1="245.20" x2="408.90" y2="247.70" stroke="#333" stroke-width="1.2"/>
<text transform="translate(409.90,255.60) scale(0.930,1.060)" font-size="8.4" font-weight="bold" text-anchor="middle" fill="#000">4</text>
<line x1="428.50" y1="245.20" x2="428.50" y2="247.70" stroke="#333" stroke-width="1.2"/>
<text transform="translate(429.50,255.60) scale(0.930,1.060)" font-size="8.4" font-weight="bold" text-anchor="middle" fill="#000">8</text>
<line x1="448.30" y1="245.20" x2="448.30" y2="247.70" stroke="#333" stroke-width="1.2"/>
<text transform="translate(449.30,255.60) scale(0.930,1.060)" font-size="8.4" font-weight="bold" text-anchor="middle" fill="#000">12</text>
<line x1="468.10" y1="245.20" x2="468.10" y2="247.70" stroke="#333" stroke-width="1.2"/>
<text transform="translate(469.10,255.60) scale(0.930,1.060)" font-size="8.4" font-weight="bold" text-anchor="middle" fill="#000">24</text>
<line x1="487.80" y1="245.20" x2="487.80" y2="247.70" stroke="#333" stroke-width="1.2"/>
<text transform="translate(488.80,255.60) scale(0.930,1.060)" font-size="8.4" font-weight="bold" text-anchor="middle" fill="#000">36</text>
<text transform="translate(437.90,269.00) scale(1.000,1.060)" font-size="8.6" font-weight="bold" text-anchor="middle" fill="#000">Weeks</text>
<line x1="408.90" y1="206.10" x2="408.90" y2="208.05" stroke="#98d678" stroke-width="0.9"/>
<line x1="407.40" y1="206.10" x2="410.40" y2="206.10" stroke="#98d678" stroke-width="0.9"/>
<line x1="428.50" y1="197.11" x2="428.50" y2="201.02" stroke="#98d678" stroke-width="0.9"/>
<line x1="427.00" y1="197.11" x2="430.00" y2="197.11" stroke="#98d678" stroke-width="0.9"/>
<line x1="448.30" y1="198.08" x2="448.30" y2="201.02" stroke="#98d678" stroke-width="0.9"/>
<line x1="446.80" y1="198.08" x2="449.80" y2="198.08" stroke="#98d678" stroke-width="0.9"/>
<polyline points="389.30,225.85 408.90,208.05 428.50,201.02 448.30,201.02 468.10,207.27 487.80,214.70" fill="none" stroke="#98d678" stroke-width="0.85" stroke-linejoin="miter"/>
<circle cx="389.30" cy="225.85" r="1.55" fill="#6cb84a"/>
<circle cx="408.90" cy="208.05" r="1.55" fill="#6cb84a"/>
<circle cx="428.50" cy="201.02" r="1.55" fill="#6cb84a"/>
<circle cx="448.30" cy="201.02" r="1.55" fill="#6cb84a"/>
<circle cx="468.10" cy="207.27" r="1.55" fill="#6cb84a"/>
<circle cx="487.80" cy="214.70" r="1.55" fill="#6cb84a"/>
<line x1="428.50" y1="196.91" x2="428.50" y2="199.84" stroke="#4a56de" stroke-width="0.9"/>
<line x1="427.00" y1="196.91" x2="430.00" y2="196.91" stroke="#4a56de" stroke-width="0.9"/>
<line x1="448.30" y1="195.74" x2="448.30" y2="199.65" stroke="#4a56de" stroke-width="0.9"/>
<line x1="446.80" y1="195.74" x2="449.80" y2="195.74" stroke="#4a56de" stroke-width="0.9"/>
<line x1="468.10" y1="204.93" x2="468.10" y2="207.27" stroke="#4a56de" stroke-width="0.9"/>
<line x1="466.60" y1="204.93" x2="469.60" y2="204.93" stroke="#4a56de" stroke-width="0.9"/>
<line x1="487.80" y1="212.94" x2="487.80" y2="214.90" stroke="#4a56de" stroke-width="0.9"/>
<line x1="486.30" y1="212.94" x2="489.30" y2="212.94" stroke="#4a56de" stroke-width="0.9"/>
<polyline points="389.30,227.41 408.90,211.96 428.50,199.84 448.30,199.65 468.10,207.27 487.80,214.90" fill="none" stroke="#4a56de" stroke-width="0.85" stroke-linejoin="miter"/>
<circle cx="389.30" cy="227.41" r="1.55" fill="#2a3acc"/>
<circle cx="408.90" cy="211.96" r="1.55" fill="#2a3acc"/>
<circle cx="428.50" cy="199.84" r="1.55" fill="#2a3acc"/>
<circle cx="448.30" cy="199.65" r="1.55" fill="#2a3acc"/>
<circle cx="468.10" cy="207.27" r="1.55" fill="#2a3acc"/>
<circle cx="487.80" cy="214.90" r="1.55" fill="#2a3acc"/>
<line x1="448.30" y1="180.10" x2="448.30" y2="183.03" stroke="#2a2a2a" stroke-width="0.9"/>
<line x1="446.80" y1="180.10" x2="449.80" y2="180.10" stroke="#2a2a2a" stroke-width="0.9"/>
<line x1="468.10" y1="188.31" x2="468.10" y2="191.24" stroke="#2a2a2a" stroke-width="0.9"/>
<line x1="466.60" y1="188.31" x2="469.60" y2="188.31" stroke="#2a2a2a" stroke-width="0.9"/>
<polyline points="389.30,228.58 408.90,219.59 428.50,205.51 448.30,183.03 468.10,191.24 487.80,195.74" fill="none" stroke="#2a2a2a" stroke-width="0.85" stroke-linejoin="miter"/>
<circle cx="389.30" cy="228.58" r="1.55" fill="#111"/>
<circle cx="408.90" cy="219.59" r="1.55" fill="#111"/>
<circle cx="428.50" cy="205.51" r="1.55" fill="#111"/>
<circle cx="448.30" cy="183.03" r="1.55" fill="#111"/>
<circle cx="468.10" cy="191.24" r="1.55" fill="#111"/>
<circle cx="487.80" cy="195.74" r="1.55" fill="#111"/>
<line x1="389.30" y1="213.14" x2="389.30" y2="214.70" stroke="#e07272" stroke-width="0.9"/>
<line x1="387.80" y1="213.14" x2="390.80" y2="213.14" stroke="#e07272" stroke-width="0.9"/>
<line x1="408.90" y1="191.63" x2="408.90" y2="193.59" stroke="#e07272" stroke-width="0.9"/>
<line x1="407.40" y1="191.63" x2="410.40" y2="191.63" stroke="#e07272" stroke-width="0.9"/>
<line x1="428.50" y1="176.77" x2="428.50" y2="179.71" stroke="#e07272" stroke-width="0.9"/>
<line x1="427.00" y1="176.77" x2="430.00" y2="176.77" stroke="#e07272" stroke-width="0.9"/>
<line x1="448.30" y1="178.93" x2="448.30" y2="182.44" stroke="#e07272" stroke-width="0.9"/>
<line x1="446.80" y1="178.93" x2="449.80" y2="178.93" stroke="#e07272" stroke-width="0.9"/>
<line x1="468.10" y1="187.14" x2="468.10" y2="190.66" stroke="#e07272" stroke-width="0.9"/>
<line x1="466.60" y1="187.14" x2="469.60" y2="187.14" stroke="#e07272" stroke-width="0.9"/>
<line x1="487.80" y1="194.17" x2="487.80" y2="196.52" stroke="#e07272" stroke-width="0.9"/>
<line x1="486.30" y1="194.17" x2="489.30" y2="194.17" stroke="#e07272" stroke-width="0.9"/>
<polyline points="389.30,214.70 408.90,193.59 428.50,179.71 448.30,182.44 468.10,190.66 487.80,196.52" fill="none" stroke="#e07272" stroke-width="0.85" stroke-linejoin="miter"/>
<circle cx="389.30" cy="214.70" r="1.55" fill="#cc4040"/>
<circle cx="408.90" cy="193.59" r="1.55" fill="#cc4040"/>
<circle cx="428.50" cy="179.71" r="1.55" fill="#cc4040"/>
<circle cx="448.30" cy="182.44" r="1.55" fill="#cc4040"/>
<circle cx="468.10" cy="190.66" r="1.55" fill="#cc4040"/>
<circle cx="487.80" cy="196.52" r="1.55" fill="#cc4040"/>
<circle cx="389.30" cy="209.20" r="1.25" fill="#222"/>
<circle cx="408.90" cy="188.80" r="1.25" fill="#222"/>
<circle cx="428.50" cy="171.50" r="1.25" fill="#222"/>
<text transform="translate(351.20,204.50) rotate(-90)" font-size="8.5" font-weight="bold" text-anchor="middle" fill="#000">CD45.2+ B220+ Cells</text>
<text transform="translate(361.00,204.20) rotate(-90)" font-size="8.1" font-weight="bold" text-anchor="middle" fill="#000">(% total cells)</text>
<line x1="384.20" y1="142.80" x2="393.40" y2="142.80" stroke="#2a2a2a" stroke-width="0.85"/>
<circle cx="388.80" cy="142.80" r="1.4" fill="#111"/>
<text transform="translate(396.70,145.90) scale(1.000,1.060)" font-size="8.6" fill="#000">WT Sham</text>
<line x1="384.20" y1="155.60" x2="393.40" y2="155.60" stroke="#e07272" stroke-width="0.85"/>
<circle cx="388.80" cy="155.60" r="1.4" fill="#cc4040"/>
<text transform="translate(396.70,158.70) scale(1.000,1.060)" font-size="8.6" fill="#000">WT OVX</text>
<line x1="437.90" y1="142.80" x2="447.30" y2="142.80" stroke="#98d678" stroke-width="0.85"/>
<circle cx="442.60" cy="142.80" r="1.4" fill="#6cb84a"/>
<text transform="translate(450.50,145.90) scale(1.000,1.060)" font-size="8.5" fill="#000">Wnt10b-/- Sham</text>
<line x1="437.90" y1="155.60" x2="447.30" y2="155.60" stroke="#4a56de" stroke-width="0.85"/>
<circle cx="442.60" cy="155.60" r="1.4" fill="#2a3acc"/>
<text transform="translate(450.50,158.70) scale(1.000,1.060)" font-size="8.5" fill="#000">Wnt10b-/- OVX</text>
<line x1="91.00" y1="315.50" x2="91.00" y2="407.90" stroke="#333" stroke-width="1.2"/>
<line x1="90.50" y1="407.40" x2="222.50" y2="407.40" stroke="#333" stroke-width="1.2"/>
<line x1="88.50" y1="407.40" x2="91.00" y2="407.40" stroke="#333" stroke-width="1.2"/>
<text transform="translate(88.00,411.00) scale(0.915,1.060)" font-size="10.2" font-weight="bold" text-anchor="end" fill="#000">0</text>
<line x1="88.50" y1="389.12" x2="91.00" y2="389.12" stroke="#333" stroke-width="1.2"/>
<text transform="translate(88.00,392.72) scale(0.915,1.060)" font-size="10.2" font-weight="bold" text-anchor="end" fill="#000">20</text>
<line x1="88.50" y1="370.84" x2="91.00" y2="370.84" stroke="#333" stroke-width="1.2"/>
<text transform="translate(88.00,374.44) scale(0.915,1.060)" font-size="10.2" font-weight="bold" text-anchor="end" fill="#000">40</text>
<line x1="88.50" y1="352.56" x2="91.00" y2="352.56" stroke="#333" stroke-width="1.2"/>
<text transform="translate(88.00,356.16) scale(0.915,1.060)" font-size="10.2" font-weight="bold" text-anchor="end" fill="#000">60</text>
<line x1="88.50" y1="334.28" x2="91.00" y2="334.28" stroke="#333" stroke-width="1.2"/>
<text transform="translate(88.00,337.88) scale(0.915,1.060)" font-size="10.2" font-weight="bold" text-anchor="end" fill="#000">80</text>
<line x1="88.50" y1="316.00" x2="91.00" y2="316.00" stroke="#333" stroke-width="1.2"/>
<text transform="translate(88.00,319.60) scale(0.915,1.060)" font-size="10.2" font-weight="bold" text-anchor="end" fill="#000">100</text>
<line x1="91.00" y1="407.40" x2="91.00" y2="409.90" stroke="#333" stroke-width="1.2"/>
<text transform="translate(91.00,420.10) scale(0.915,1.060)" font-size="10.2" font-weight="bold" text-anchor="middle" fill="#000">0</text>
<line x1="123.76" y1="407.40" x2="123.76" y2="409.90" stroke="#333" stroke-width="1.2"/>
<text transform="translate(123.76,420.10) scale(0.915,1.060)" font-size="10.2" font-weight="bold" text-anchor="middle" fill="#000">7</text>
<line x1="156.52" y1="407.40" x2="156.52" y2="409.90" stroke="#333" stroke-width="1.2"/>
<text transform="translate(156.52,420.10) scale(0.915,1.060)" font-size="10.2" font-weight="bold" text-anchor="middle" fill="#000">14</text>
<line x1="189.28" y1="407.40" x2="189.28" y2="409.90" stroke="#333" stroke-width="1.2"/>
<text transform="translate(189.28,420.10) scale(0.915,1.060)" font-size="10.2" font-weight="bold" text-anchor="middle" fill="#000">21</text>
<line x1="222.04" y1="407.40" x2="222.04" y2="409.90" stroke="#333" stroke-width="1.2"/>
<text transform="translate(222.04,420.10) scale(0.915,1.060)" font-size="10.2" font-weight="bold" text-anchor="middle" fill="#000">28</text>
<text transform="translate(157.00,435.20) scale(1.000,1.060)" font-size="9.4" font-weight="bold" text-anchor="middle" fill="#000">Time (Days)</text>
<text transform="translate(67.00,360.00) rotate(-90)" font-size="10.0" font-weight="bold" text-anchor="middle" fill="#000">Surviving mice (%)</text>
<polyline points="91.00,316.00 91.00,316.00 128.44,316.00 128.44,334.28 133.12,334.28 133.12,352.56 142.48,352.56 142.48,361.70 147.16,361.70 147.16,370.84 222.04,370.84" fill="none" stroke="#111" stroke-width="1.4" stroke-linejoin="miter"/>
<line x1="222.04" y1="368.64" x2="222.04" y2="370.84" stroke="#111" stroke-width="1"/>
<polyline points="91.00,316.00 91.00,316.00 133.12,316.00 133.12,325.14 222.04,325.14" fill="none" stroke="#c44a55" stroke-width="1.4" stroke-opacity="0.85"/>
<line x1="222.04" y1="322.94" x2="222.04" y2="325.14" stroke="#c44a55" stroke-width="1"/>
<text transform="translate(61.20,294.90) scale(1.000,1.100)" font-size="9.6" fill="#000">Donor mice: Intact WT mice</text>
<text transform="translate(61.20,306.80) scale(1.000,1.100)" font-size="9.6" fill="#000">Recipient mice: Sham and OVX WT mice</text>
<text transform="translate(182.40,335.30) scale(0.915,1.060)" font-size="10.3" fill="#000">p&lt;0.05</text>
<line x1="94.80" y1="384.60" x2="104.60" y2="384.60" stroke="#d85050" stroke-width="1.2"/>
<line x1="99.70" y1="382.40" x2="99.70" y2="384.60" stroke="#d85050" stroke-width="1"/>
<line x1="94.80" y1="397.10" x2="104.60" y2="397.10" stroke="#111" stroke-width="1.2"/>
<line x1="99.70" y1="394.90" x2="99.70" y2="397.10" stroke="#111" stroke-width="1"/>
<text transform="translate(109.30,388.20) scale(1.000,1.060)" font-size="9.4" fill="#000">OVX</text>
<text transform="translate(109.30,400.70) scale(1.000,1.060)" font-size="9.4" fill="#000">Sham</text>
<line x1="312.50" y1="315.90" x2="312.50" y2="407.50" stroke="#333" stroke-width="1.2"/>
<line x1="312.00" y1="407.00" x2="449.00" y2="407.00" stroke="#333" stroke-width="1.2"/>
<line x1="310.00" y1="407.00" x2="312.50" y2="407.00" stroke="#333" stroke-width="1.2"/>
<text transform="translate(309.50,410.60) scale(0.938,1.060)" font-size="10.2" font-weight="bold" text-anchor="end" fill="#000">0</text>
<line x1="310.00" y1="388.88" x2="312.50" y2="388.88" stroke="#333" stroke-width="1.2"/>
<text transform="translate(309.50,392.48) scale(0.938,1.060)" font-size="10.2" font-weight="bold" text-anchor="end" fill="#000">20</text>
<line x1="310.00" y1="370.76" x2="312.50" y2="370.76" stroke="#333" stroke-width="1.2"/>
<text transform="translate(309.50,374.36) scale(0.938,1.060)" font-size="10.2" font-weight="bold" text-anchor="end" fill="#000">40</text>
<line x1="310.00" y1="352.64" x2="312.50" y2="352.64" stroke="#333" stroke-width="1.2"/>
<text transform="translate(309.50,356.24) scale(0.938,1.060)" font-size="10.2" font-weight="bold" text-anchor="end" fill="#000">60</text>
<line x1="310.00" y1="334.52" x2="312.50" y2="334.52" stroke="#333" stroke-width="1.2"/>
<text transform="translate(309.50,338.12) scale(0.938,1.060)" font-size="10.2" font-weight="bold" text-anchor="end" fill="#000">80</text>
<line x1="310.00" y1="316.40" x2="312.50" y2="316.40" stroke="#333" stroke-width="1.2"/>
<text transform="translate(309.50,320.00) scale(0.938,1.060)" font-size="10.2" font-weight="bold" text-anchor="end" fill="#000">100</text>
<line x1="312.70" y1="407.00" x2="312.70" y2="409.50" stroke="#333" stroke-width="1.2"/>
<text transform="translate(312.70,420.10) scale(0.938,1.060)" font-size="10.2" font-weight="bold" text-anchor="middle" fill="#000">0</text>
<line x1="346.40" y1="407.00" x2="346.40" y2="409.50" stroke="#333" stroke-width="1.2"/>
<text transform="translate(346.40,420.10) scale(0.938,1.060)" font-size="10.2" font-weight="bold" text-anchor="middle" fill="#000">7</text>
<line x1="380.11" y1="407.00" x2="380.11" y2="409.50" stroke="#333" stroke-width="1.2"/>
<text transform="translate(380.11,420.10) scale(0.938,1.060)" font-size="10.2" font-weight="bold" text-anchor="middle" fill="#000">14</text>
<line x1="413.81" y1="407.00" x2="413.81" y2="409.50" stroke="#333" stroke-width="1.2"/>
<text transform="translate(413.81,420.10) scale(0.938,1.060)" font-size="10.2" font-weight="bold" text-anchor="middle" fill="#000">21</text>
<line x1="447.52" y1="407.00" x2="447.52" y2="409.50" stroke="#333" stroke-width="1.2"/>
<text transform="translate(447.52,420.10) scale(0.938,1.060)" font-size="10.2" font-weight="bold" text-anchor="middle" fill="#000">28</text>
<text transform="translate(380.70,434.80) scale(1.025,1.060)" font-size="9.4" font-weight="bold" text-anchor="middle" fill="#000">Time (Days)</text>
<text transform="translate(289.00,359.50) rotate(-90)" font-size="10.0" font-weight="bold" text-anchor="middle" fill="#000">Surviving mice (%)</text>
<polyline points="312.50,316.40 312.70,316.40 346.40,316.40 346.40,334.52 351.22,334.52 351.22,361.70 356.03,361.70 356.03,370.76 447.52,370.76" fill="none" stroke="#111" stroke-width="1.4" stroke-linejoin="miter"/>
<line x1="447.52" y1="368.56" x2="447.52" y2="370.76" stroke="#111" stroke-width="1"/>
<polyline points="312.50,316.40 312.70,316.40 346.40,316.40 346.40,325.46 351.22,325.46 351.22,343.58 356.03,343.58 356.03,352.64 366.63,352.64 366.63,361.70 375.30,361.70 375.30,370.76 447.52,370.76" fill="none" stroke="#cc4c4c" stroke-width="1.4" stroke-opacity="0.85"/>
<line x1="447.52" y1="368.56" x2="447.52" y2="370.76" stroke="#cc4c4c" stroke-width="1"/>
<text transform="translate(282.70,294.90) scale(1.025,1.100)" font-size="9.6" fill="#000">Donor mice: Intact Wnt10b-/- mice</text>
<text transform="translate(282.70,306.80) scale(1.025,1.100)" font-size="9.6" fill="#000">Recipient mice: Sham and OVX WT mice</text>
<line x1="317.00" y1="384.60" x2="326.60" y2="384.60" stroke="#d85050" stroke-width="1.2"/>
<line x1="321.80" y1="382.40" x2="321.80" y2="384.60" stroke="#d85050" stroke-width="1"/>
<line x1="317.00" y1="396.20" x2="326.60" y2="396.20" stroke="#111" stroke-width="1.2"/>
<line x1="321.80" y1="394.00" x2="321.80" y2="396.20" stroke="#111" stroke-width="1"/>
<text transform="translate(332.50,388.20) scale(1.000,1.060)" font-size="9.6" fill="#000">OVX</text>
<text transform="translate(332.50,399.80) scale(1.000,1.060)" font-size="9.6" fill="#000">Sham</text>
<line x1="85.20" y1="483.10" x2="85.20" y2="575.10" stroke="#333" stroke-width="1.2"/>
<line x1="84.70" y1="574.60" x2="227.00" y2="574.60" stroke="#333" stroke-width="1.2"/>
<line x1="82.70" y1="574.60" x2="85.20" y2="574.60" stroke="#333" stroke-width="1.2"/>
<text transform="translate(82.20,578.20) scale(0.984,1.060)" font-size="10.2" font-weight="bold" text-anchor="end" fill="#000">0</text>
<line x1="82.70" y1="556.40" x2="85.20" y2="556.40" stroke="#333" stroke-width="1.2"/>
<text transform="translate(82.20,560.00) scale(0.984,1.060)" font-size="10.2" font-weight="bold" text-anchor="end" fill="#000">20</text>
<line x1="82.70" y1="538.20" x2="85.20" y2="538.20" stroke="#333" stroke-width="1.2"/>
<text transform="translate(82.20,541.80) scale(0.984,1.060)" font-size="10.2" font-weight="bold" text-anchor="end" fill="#000">40</text>
<line x1="82.70" y1="520.00" x2="85.20" y2="520.00" stroke="#333" stroke-width="1.2"/>
<text transform="translate(82.20,523.60) scale(0.984,1.060)" font-size="10.2" font-weight="bold" text-anchor="end" fill="#000">60</text>
<line x1="82.70" y1="501.80" x2="85.20" y2="501.80" stroke="#333" stroke-width="1.2"/>
<text transform="translate(82.20,505.40) scale(0.984,1.060)" font-size="10.2" font-weight="bold" text-anchor="end" fill="#000">80</text>
<line x1="82.70" y1="483.60" x2="85.20" y2="483.60" stroke="#333" stroke-width="1.2"/>
<text transform="translate(82.20,487.20) scale(0.984,1.060)" font-size="10.2" font-weight="bold" text-anchor="end" fill="#000">100</text>
<line x1="85.20" y1="574.60" x2="85.20" y2="577.10" stroke="#333" stroke-width="1.2"/>
<text transform="translate(85.20,587.90) scale(0.984,1.060)" font-size="10.2" font-weight="bold" text-anchor="middle" fill="#000">0</text>
<line x1="120.55" y1="574.60" x2="120.55" y2="577.10" stroke="#333" stroke-width="1.2"/>
<text transform="translate(120.55,587.90) scale(0.984,1.060)" font-size="10.2" font-weight="bold" text-anchor="middle" fill="#000">7</text>
<line x1="155.90" y1="574.60" x2="155.90" y2="577.10" stroke="#333" stroke-width="1.2"/>
<text transform="translate(155.90,587.90) scale(0.984,1.060)" font-size="10.2" font-weight="bold" text-anchor="middle" fill="#000">14</text>
<line x1="191.25" y1="574.60" x2="191.25" y2="577.10" stroke="#333" stroke-width="1.2"/>
<text transform="translate(191.25,587.90) scale(0.984,1.060)" font-size="10.2" font-weight="bold" text-anchor="middle" fill="#000">21</text>
<line x1="226.60" y1="574.60" x2="226.60" y2="577.10" stroke="#333" stroke-width="1.2"/>
<text transform="translate(226.60,587.90) scale(0.984,1.060)" font-size="10.2" font-weight="bold" text-anchor="middle" fill="#000">28</text>
<text transform="translate(157.10,601.80) scale(1.075,1.060)" font-size="9.4" font-weight="bold" text-anchor="middle" fill="#000">Time (Days)</text>
<text transform="translate(58.00,525.50) rotate(-90)" font-size="10.0" font-weight="bold" text-anchor="middle" fill="#000">Surviving mice (%)</text>
<polyline points="85.20,483.60 85.20,483.60 121.06,483.60 121.06,492.70 125.60,492.70 125.60,520.00 130.65,520.00 130.65,529.10 141.25,529.10 141.25,538.20 226.60,538.20" fill="none" stroke="#111" stroke-width="1.4" stroke-linejoin="miter"/>
<line x1="226.60" y1="536.00" x2="226.60" y2="538.20" stroke="#111" stroke-width="1"/>
<polyline points="85.20,483.60 85.20,483.60 226.60,483.60" fill="none" stroke="#c4858f" stroke-width="1.4" stroke-opacity="0.85"/>
<line x1="226.60" y1="481.40" x2="226.60" y2="483.60" stroke="#c4858f" stroke-width="1"/>
<text transform="translate(53.50,463.30) scale(1.075,1.100)" font-size="9.6" fill="#000">Donor mice: Sham and OVX WT mice</text>
<text transform="translate(53.50,475.20) scale(1.075,1.100)" font-size="9.6" fill="#000">Recipient mice: Intact WT mice</text>
<text transform="translate(183.60,495.40) scale(0.975,1.060)" font-size="10.3" fill="#000">p&lt;0.01</text>
<line x1="89.80" y1="552.60" x2="100.40" y2="552.60" stroke="#d85050" stroke-width="1.2"/>
<line x1="95.10" y1="550.40" x2="95.10" y2="552.60" stroke="#d85050" stroke-width="1"/>
<line x1="89.80" y1="563.70" x2="100.40" y2="563.70" stroke="#111" stroke-width="1.2"/>
<line x1="95.10" y1="561.50" x2="95.10" y2="563.70" stroke="#111" stroke-width="1"/>
<text transform="translate(105.60,556.20) scale(1.000,1.060)" font-size="9.2" fill="#000">OVX</text>
<text transform="translate(105.60,567.30) scale(1.000,1.060)" font-size="9.2" fill="#000">Sham</text>
<line x1="319.40" y1="484.50" x2="319.40" y2="576.50" stroke="#333" stroke-width="1.2"/>
<line x1="318.90" y1="576.00" x2="454.50" y2="576.00" stroke="#333" stroke-width="1.2"/>
<line x1="316.90" y1="576.00" x2="319.40" y2="576.00" stroke="#333" stroke-width="1.2"/>
<text transform="translate(316.40,579.60) scale(0.935,1.060)" font-size="10.2" font-weight="bold" text-anchor="end" fill="#000">0</text>
<line x1="316.90" y1="557.80" x2="319.40" y2="557.80" stroke="#333" stroke-width="1.2"/>
<text transform="translate(316.40,561.40) scale(0.935,1.060)" font-size="10.2" font-weight="bold" text-anchor="end" fill="#000">20</text>
<line x1="316.90" y1="539.60" x2="319.40" y2="539.60" stroke="#333" stroke-width="1.2"/>
<text transform="translate(316.40,543.20) scale(0.935,1.060)" font-size="10.2" font-weight="bold" text-anchor="end" fill="#000">40</text>
<line x1="316.90" y1="521.40" x2="319.40" y2="521.40" stroke="#333" stroke-width="1.2"/>
<text transform="translate(316.40,525.00) scale(0.935,1.060)" font-size="10.2" font-weight="bold" text-anchor="end" fill="#000">60</text>
<line x1="316.90" y1="503.20" x2="319.40" y2="503.20" stroke="#333" stroke-width="1.2"/>
<text transform="translate(316.40,506.80) scale(0.935,1.060)" font-size="10.2" font-weight="bold" text-anchor="end" fill="#000">80</text>
<line x1="316.90" y1="485.00" x2="319.40" y2="485.00" stroke="#333" stroke-width="1.2"/>
<text transform="translate(316.40,488.60) scale(0.935,1.060)" font-size="10.2" font-weight="bold" text-anchor="end" fill="#000">100</text>
<line x1="319.50" y1="576.00" x2="319.50" y2="578.50" stroke="#333" stroke-width="1.2"/>
<text transform="translate(319.50,588.90) scale(0.935,1.060)" font-size="10.2" font-weight="bold" text-anchor="middle" fill="#000">0</text>
<line x1="352.96" y1="576.00" x2="352.96" y2="578.50" stroke="#333" stroke-width="1.2"/>
<text transform="translate(352.96,588.90) scale(0.935,1.060)" font-size="10.2" font-weight="bold" text-anchor="middle" fill="#000">7</text>
<line x1="386.42" y1="576.00" x2="386.42" y2="578.50" stroke="#333" stroke-width="1.2"/>
<text transform="translate(386.42,588.90) scale(0.935,1.060)" font-size="10.2" font-weight="bold" text-anchor="middle" fill="#000">14</text>
<line x1="419.88" y1="576.00" x2="419.88" y2="578.50" stroke="#333" stroke-width="1.2"/>
<text transform="translate(419.88,588.90) scale(0.935,1.060)" font-size="10.2" font-weight="bold" text-anchor="middle" fill="#000">21</text>
<line x1="453.34" y1="576.00" x2="453.34" y2="578.50" stroke="#333" stroke-width="1.2"/>
<text transform="translate(453.34,588.90) scale(0.935,1.060)" font-size="10.2" font-weight="bold" text-anchor="middle" fill="#000">28</text>
<text transform="translate(387.30,602.60) scale(1.022,1.060)" font-size="9.4" font-weight="bold" text-anchor="middle" fill="#000">Time (Days)</text>
<text transform="translate(295.30,529.50) rotate(-90)" font-size="10.0" font-weight="bold" text-anchor="middle" fill="#000">Surviving mice (%)</text>
<polyline points="319.40,485.00 319.50,485.00 353.20,485.00 353.20,503.20 357.88,503.20 357.88,521.40 362.81,521.40 362.81,530.50 367.59,530.50 367.59,539.60 453.34,539.60" fill="none" stroke="#111" stroke-width="1.4" stroke-linejoin="miter"/>
<line x1="453.34" y1="537.40" x2="453.34" y2="539.60" stroke="#111" stroke-width="1"/>
<polyline points="319.40,485.00 319.50,485.00 357.88,485.00 357.88,503.20 362.81,503.20 362.81,521.40 367.59,521.40 367.59,530.50 372.37,530.50 372.37,539.60 453.34,539.60" fill="none" stroke="#c84848" stroke-width="1.4" stroke-opacity="0.85"/>
<line x1="453.34" y1="537.40" x2="453.34" y2="539.60" stroke="#c84848" stroke-width="1"/>
<text transform="translate(289.20,463.30) scale(1.022,1.100)" font-size="9.6" fill="#000">Donor mice: Sham and OVX Wnt10b-/- mice</text>
<text transform="translate(289.20,475.70) scale(1.022,1.100)" font-size="9.6" fill="#000">Recipient mice: Intact WT mice</text>
<line x1="324.80" y1="554.10" x2="334.00" y2="554.10" stroke="#d85050" stroke-width="1.2"/>
<line x1="329.40" y1="551.90" x2="329.40" y2="554.10" stroke="#d85050" stroke-width="1"/>
<line x1="324.80" y1="565.70" x2="334.00" y2="565.70" stroke="#111" stroke-width="1.2"/>
<line x1="329.40" y1="563.50" x2="329.40" y2="565.70" stroke="#111" stroke-width="1"/>
<text transform="translate(340.00,557.70) scale(1.000,1.060)" font-size="9.6" fill="#000">OVX</text>
<text transform="translate(340.00,569.30) scale(1.000,1.060)" font-size="9.6" fill="#000">Sham</text>
</g></svg></body></html>
